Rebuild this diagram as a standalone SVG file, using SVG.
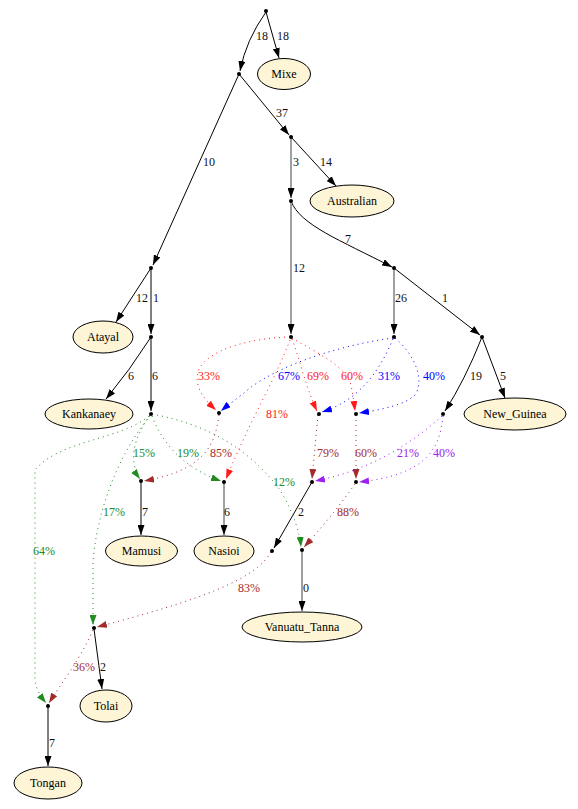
<svg xmlns="http://www.w3.org/2000/svg" width="578" height="809" viewBox="0 0 578 809" font-family="'Liberation Serif', 'DejaVu Serif', serif" font-size="12">
<style>
text{font-family:'Liberation Serif','DejaVu Serif',serif;font-size:12px}
.n ellipse{fill:#fdf5d6;stroke:#000;stroke-width:1}
.n text{text-anchor:middle;fill:#000}
.pt{fill:#000}
.t{fill:none;stroke:#000;stroke-width:1;marker-end:url(#ak)}
.g{fill:none;stroke:#a0a0a0;stroke-width:2;marker-end:url(#ak)}
.d{fill:none;stroke-width:1;stroke-dasharray:1,4}
.lb{fill:#111}
.red{stroke:#ff1a1a;marker-end:url(#ar)}
.blue{stroke:#0000ff;marker-end:url(#ab)}
.grn{stroke:#228b22;marker-end:url(#agr)}
.brn{stroke:#a52a2a;marker-end:url(#abr)}
.pur{stroke:#a020f0;marker-end:url(#ap)}
.tr{fill:#ff1a1a}.tb{fill:#0000ff}.tg{fill:#228b22}.tbr{fill:#a52a2a}.tp{fill:#a020f0}
</style>
<defs>
<marker id="ak" markerUnits="userSpaceOnUse" markerWidth="10" markerHeight="7" refX="10" refY="3.5" orient="auto"><path d="M0,0 L10,3.5 L0,7 z" fill="#000"/></marker>
<marker id="ar" markerUnits="userSpaceOnUse" markerWidth="10" markerHeight="7" refX="10" refY="3.5" orient="auto"><path d="M0,0 L10,3.5 L0,7 z" fill="#ff1a1a"/></marker>
<marker id="ab" markerUnits="userSpaceOnUse" markerWidth="10" markerHeight="7" refX="10" refY="3.5" orient="auto"><path d="M0,0 L10,3.5 L0,7 z" fill="#0000ff"/></marker>
<marker id="agr" markerUnits="userSpaceOnUse" markerWidth="10" markerHeight="7" refX="10" refY="3.5" orient="auto"><path d="M0,0 L10,3.5 L0,7 z" fill="#228b22"/></marker>
<marker id="abr" markerUnits="userSpaceOnUse" markerWidth="10" markerHeight="7" refX="10" refY="3.5" orient="auto"><path d="M0,0 L10,3.5 L0,7 z" fill="#a52a2a"/></marker>
<marker id="ap" markerUnits="userSpaceOnUse" markerWidth="10" markerHeight="7" refX="10" refY="3.5" orient="auto"><path d="M0,0 L10,3.5 L0,7 z" fill="#a020f0"/></marker>
</defs>
<rect width="578" height="809" fill="#fff"/>
<g id="connectors">
<path class="t" d="M266,12 Q246,40 240,71"/>
<text class="lb" x="256" y="40">18</text>
<path class="t" d="M266,12 L279,58"/>
<text class="lb" x="277" y="40">18</text>
<path class="t" d="M239,74 L289,135"/>
<text class="lb" x="276" y="117">37</text>
<path class="t" d="M291,137 L336,186"/>
<text class="lb" x="320" y="166">14</text>
<path class="g" d="M291,138 L291,198"/>
<text class="lb" x="293" y="166">3</text>
<path class="t" d="M239,74 L153,265"/>
<text class="lb" x="203" y="166">10</text>
<path class="t" d="M291,201 C300,225 340,240 392,267"/>
<text class="lb" x="345" y="243">7</text>
<path class="g" d="M291,202 L291,334"/>
<text class="lb" x="293" y="272">12</text>
<path class="g" d="M394,268 L394,334"/>
<text class="lb" x="395" y="302">26</text>
<path class="t" d="M394,268 L480,335"/>
<text class="lb" x="442" y="302">1</text>
<path class="t" d="M482,337 Q465,380 445,411"/>
<text class="lb" x="470" y="380">19</text>
<path class="t" d="M482,337 L505,398"/>
<text class="lb" x="500" y="380">5</text>
<path class="t" d="M151,268 L116,322"/>
<text class="lb" x="136" y="302">12</text>
<path class="t" d="M151,269 L151,334"/>
<text class="lb" x="153" y="302">1</text>
<path class="t" d="M151,337 Q130,370 106,399"/>
<text class="lb" x="128" y="380">6</text>
<path class="t" d="M151,338 L151,411"/>
<text class="lb" x="152" y="380">6</text>
<path class="t" d="M141,482 L141,535"/>
<text class="lb" x="142" y="516">7</text>
<path class="g" d="M224,483 L224,535"/>
<text class="lb" x="224" y="516">6</text>
<path class="t" d="M312,482 L274,548"/>
<text class="lb" x="298" y="516">2</text>
<path class="g" d="M302,551 L302,611"/>
<text class="lb" x="303" y="592">0</text>
<path class="t" d="M94,629 L102,689"/>
<text class="lb" x="100" y="671">2</text>
<path class="t" d="M48,707 L48,766"/>
<text class="lb" x="49" y="747">7</text>

<path class="d red" d="M290,337 C250,338 205,350 198,372 C194,388 205,400 216,410"/>
<text class="tr" x="198" y="380">33%</text>
<path class="d blue" d="M393,338 C340,345 280,365 250,388 C238,398 228,405 221,411"/>
<text class="tb" x="278" y="380">67%</text>
<path class="d red" d="M292,339 C300,360 305,385 317,411"/>
<text class="tr" x="307" y="380">69%</text>
<path class="d red" d="M292,338 C315,352 345,365 351,385 C353,395 354,402 355,411"/>
<text class="tr" x="341" y="380">60%</text>
<path class="d red" d="M290,340 C275,380 250,420 226,479"/>
<text class="tr" x="266" y="418">81%</text>
<path class="d blue" d="M393,339 C380,370 360,400 322,412"/>
<text class="tb" x="378" y="380">31%</text>
<path class="d blue" d="M395,338 C415,355 425,380 415,395 C405,405 380,410 359,413"/>
<text class="tb" x="423" y="380">40%</text>
<path class="d grn" d="M150,415 C140,430 132,445 134,462 C135,470 137,475 140,479"/>
<text class="tg" x="133" y="457">15%</text>
<path class="d grn" d="M152,416 C165,450 190,470 221,481"/>
<text class="tg" x="177" y="457">19%</text>
<path class="d grn" d="M152,414 C210,425 250,450 280,490 C295,515 300,535 301,547"/>
<text class="tg" x="273" y="486">12%</text>
<path class="d grn" d="M150,416 C130,440 100,490 93,560 L93,625"/>
<text class="tg" x="103" y="516">17%</text>
<path class="d grn" d="M149,416 C120,440 60,440 35,470 L35,680 C36,690 42,698 46,703"/>
<text class="tg" x="33" y="555">64%</text>
<path class="d brn" d="M219,415 C215,445 205,470 144,481"/>
<text class="tbr" x="210" y="457">85%</text>
<path class="d brn" d="M318,415 L312,479"/>
<text class="tbr" x="317" y="457">79%</text>
<path class="d brn" d="M356,415 L356,479"/>
<text class="tbr" x="355" y="457">60%</text>
<path class="d pur" d="M442,416 C410,445 370,470 315,481"/>
<text class="tp" x="397" y="457">21%</text>
<path class="d pur" d="M443,416 C440,450 425,475 359,482"/>
<text class="tp" x="433" y="457">40%</text>
<path class="d brn" d="M355,484 C340,505 320,530 304,547"/>
<text class="tbr" x="337" y="516">88%</text>
<path class="d brn" d="M271,552 C255,580 200,600 97,627"/>
<text class="tbr" x="238" y="592">83%</text>
<path class="d brn" d="M93,630 C80,660 60,685 49,703"/>
<text class="tbr" x="73" y="671">36%</text>
</g>
<g id="points">
<circle id="p0" class="pt" cx="266" cy="11" r="2"/>
<circle id="p1" class="pt" cx="239" cy="74" r="2"/>
<circle id="p2" class="pt" cx="291" cy="137" r="2"/>
<circle id="p3" class="pt" cx="291" cy="201" r="2"/>
<circle id="p4" class="pt" cx="394" cy="268" r="2"/>
<circle id="p5" class="pt" cx="151" cy="268" r="2"/>
<circle id="p6" class="pt" cx="151" cy="337" r="2"/>
<circle id="p7" class="pt" cx="151" cy="414" r="2"/>
<circle id="p8" class="pt" cx="291" cy="337" r="2"/>
<circle id="p9" class="pt" cx="394" cy="337" r="2"/>
<circle id="p10" class="pt" cx="482" cy="337" r="2"/>
<circle id="p11" class="pt" cx="443" cy="414" r="2"/>
<circle id="h1" class="pt" cx="219" cy="413" r="2"/>
<circle id="h2" class="pt" cx="319" cy="414" r="2"/>
<circle id="h3" class="pt" cx="356" cy="414" r="2"/>
<circle id="h4" class="pt" cx="141" cy="481" r="2"/>
<circle id="h5" class="pt" cx="224" cy="482" r="2"/>
<circle id="h6" class="pt" cx="312" cy="482" r="2"/>
<circle id="h7" class="pt" cx="356" cy="482" r="2"/>
<circle id="p12" class="pt" cx="272" cy="551" r="2"/>
<circle id="h8" class="pt" cx="302" cy="550" r="2"/>
<circle id="h9" class="pt" cx="94" cy="628" r="2"/>
<circle id="h10" class="pt" cx="48" cy="706" r="2"/>
</g>
<g id="Mixe" class="n"><ellipse cx="284" cy="74" rx="26.5" ry="15.5"/><text x="284" y="78">Mixe</text></g>
<g id="Australian" class="n"><ellipse cx="352" cy="201" rx="42" ry="16"/><text x="352" y="205">Australian</text></g>
<g id="Atayal" class="n"><ellipse cx="103" cy="337" rx="30" ry="16"/><text x="103" y="341">Atayal</text></g>
<g id="Kankanaey" class="n"><ellipse cx="89" cy="414" rx="44" ry="15"/><text x="89" y="418">Kankanaey</text></g>
<g id="New_Guinea" class="n"><ellipse cx="515" cy="414" rx="51" ry="16"/><text x="515" y="418">New_Guinea</text></g>
<g id="Mamusi" class="n"><ellipse cx="141.5" cy="551" rx="36" ry="15"/><text x="141.5" y="555">Mamusi</text></g>
<g id="Nasioi" class="n"><ellipse cx="224" cy="551" rx="30" ry="15"/><text x="224" y="555">Nasioi</text></g>
<g id="Vanuatu_Tanna" class="n"><ellipse cx="302" cy="627" rx="60" ry="15"/><text x="302" y="631">Vanuatu_Tanna</text></g>
<g id="Tolai" class="n"><ellipse cx="106" cy="706" rx="26" ry="16"/><text x="106" y="710">Tolai</text></g>
<g id="Tongan" class="n"><ellipse cx="48" cy="783" rx="34" ry="16"/><text x="48" y="787">Tongan</text></g>
</svg>
